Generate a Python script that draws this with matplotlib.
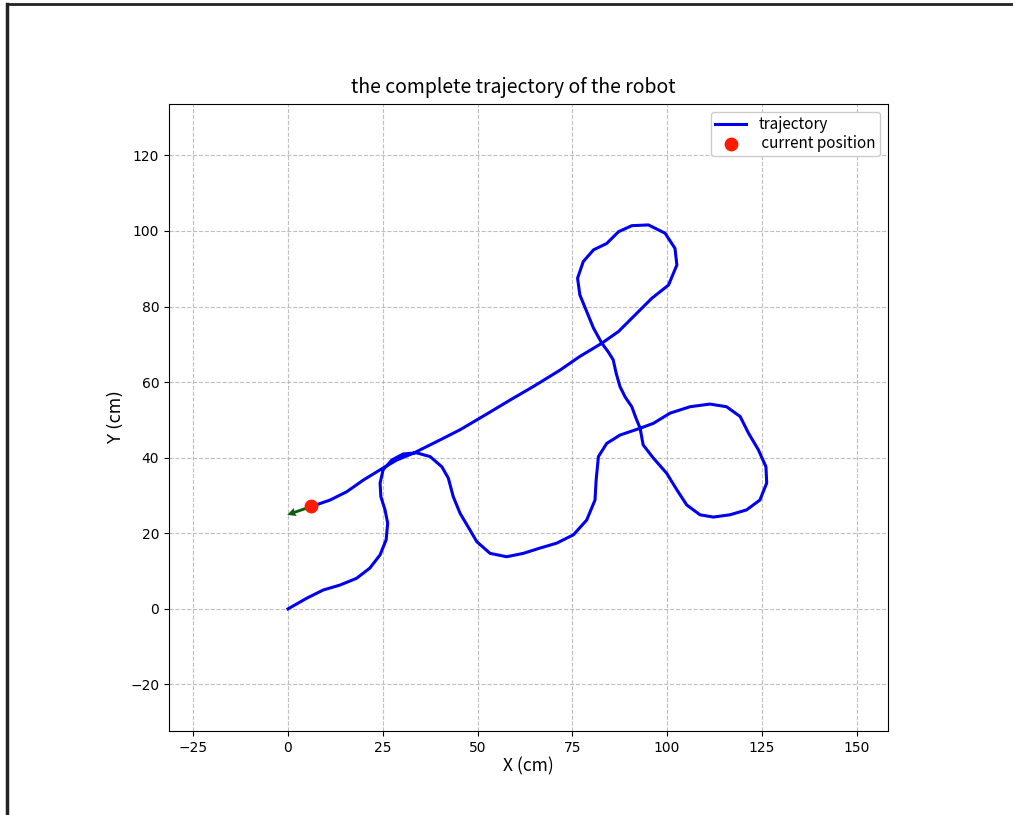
import numpy as np
import matplotlib
matplotlib.use("Agg")
import matplotlib.pyplot as plt
from matplotlib.lines import Line2D

# =========================
# DATA (cm)
# =========================
traj_x = [0.0, 4.9, 9.3, 13.7, 18.1, 21.6, 24.3, 25.9, 26.3, 25.6, 24.5, 24.3, 25.1, 27.4, 30.4,
          33.9, 37.5, 40.6, 42.3, 43.6, 45.4, 48.0, 49.8, 53.3, 57.7, 62.1, 66.5, 70.9, 75.3,
          78.8, 81.0, 81.3, 81.9, 84.1, 87.6, 92.9, 96.4, 100.8, 106.1, 111.3, 115.7, 119.3,
          121.5, 124.1, 126.1, 126.3, 124.5, 121.0, 116.6, 112.2, 108.7, 105.2, 102.6, 99.9,
          96.4, 93.7, 92.9, 91.8, 90.7, 89.0, 87.6, 86.6, 85.8, 84.5, 82.8, 80.6, 78.8, 77.0,
          76.4, 77.9, 80.6, 84.1, 87.2, 90.7, 95.1, 99.5, 102.1, 102.6, 100.4, 96.0, 91.6,
          87.2, 82.8, 77.0, 71.8, 65.0, 58.5, 52.0, 45.4, 40.1, 33.1, 28.7, 24.3, 19.9,
          15.5, 11.1, 6.2]
traj_y = [0.0, 2.8, 5.0, 6.3, 8.1, 10.8, 14.3, 18.3, 22.7, 26.2, 29.7, 33.3, 36.8, 39.4, 41.0,
          41.3, 40.3, 37.6, 34.6, 29.7, 25.3, 20.9, 17.8, 14.7, 13.8, 14.7, 16.1, 17.4, 19.6,
          23.5, 28.8, 34.1, 40.3, 43.8, 46.0, 47.8, 49.1, 51.8, 53.5, 54.2, 53.5, 50.9,
          46.5, 42.1, 37.6, 33.3, 28.8, 26.2, 24.9, 24.3, 24.9, 27.5, 31.5, 35.9,
          39.9, 43.4, 47.8, 50.5, 53.5, 56.0, 58.8, 62.3, 65.9, 68.0, 70.3, 74.3, 78.7, 83.1,
          87.5, 91.9, 95.0, 96.7, 99.8, 101.4, 101.6, 99.4, 95.4, 91.0, 85.7, 82.2, 77.8,
          73.4, 70.3, 66.8, 63.2, 59.0, 55.2, 51.3, 47.4, 44.7, 41.2, 39.4, 36.8, 34.1,
          31.0, 28.8, 27.1]

cur_pos = (6.2, 27.1)
heading = (-6.4, -2.2)

# =========================
# PLOT
# =========================
fig = plt.figure(figsize=(10.13, 8.15), dpi=100)
ax = fig.add_axes([0.1668, 0.1031, 0.7098, 0.7693])

ax.plot(traj_x, traj_y, color="#0000ee", linewidth=2.2, label="trajectory",
        solid_joinstyle="round", zorder=3)
ax.quiver(cur_pos[0], cur_pos[1], heading[0], heading[1], angles="xy", scale_units="xy",
          scale=1, color="#0b5d0b", width=0.004, headwidth=3, headlength=3,
          headaxislength=2.7, zorder=4)
ax.scatter([cur_pos[0]], [cur_pos[1]], s=80, color="#ff1a00", label=" current position", zorder=5)

ax.set_xlim(-31.4, 158.3)
ax.set_ylim(-32.3, 133.6)
ax.set_xticks([-25, 0, 25, 50, 75, 100, 125, 150])
ax.set_yticks([-20, 0, 20, 40, 60, 80, 100, 120])
ax.grid(True, linestyle="--", color="#b0b0b0", alpha=0.8, linewidth=0.8)
ax.tick_params(labelsize=10)

cjk = ["Noto Sans CJK SC", "DejaVu Sans"]
ax.set_title("the complete trajectory of the robot", fontsize=14, family=cjk, pad=8,
             x=0.479, fontweight="light")
ax.set_xlabel("X (cm)", fontsize=12.5, family=cjk, labelpad=2)
ax.set_ylabel("Y (cm)", fontsize=12)
ax.legend(loc="upper right", prop={"family": cjk, "size": 11}, borderpad=0.3,
          handletextpad=0.8, labelspacing=0.1, framealpha=1)

# screenshot frame lines
fig.add_artist(Line2D([0.007, 1.0], [0.9945, 0.9945], color="#222222", linewidth=2))
fig.add_artist(Line2D([0.007, 0.007], [0.0, 0.9945], color="#222222", linewidth=2.5))

fig.savefig("out.png", dpi=100)
